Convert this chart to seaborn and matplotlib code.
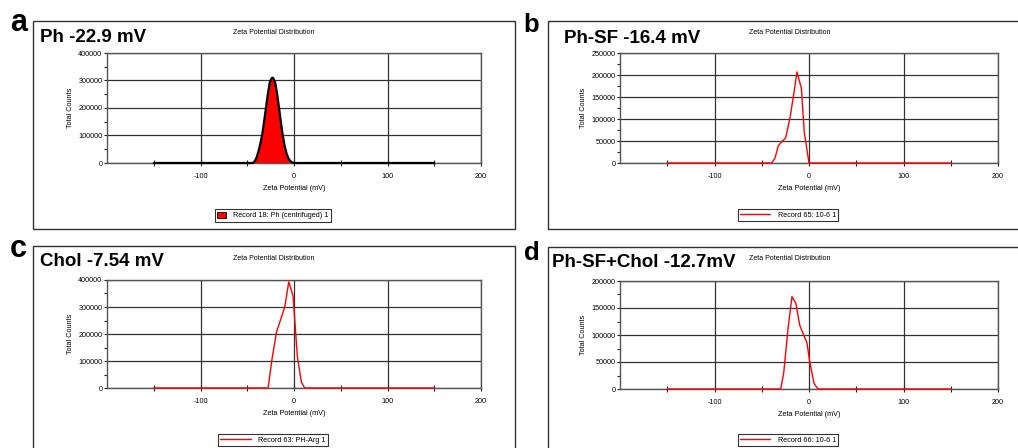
import matplotlib
matplotlib.use("Agg")
import matplotlib.pyplot as plt
from matplotlib.patches import Rectangle
import pandas as pd
import seaborn as sns

# zeta potential distributions
a_mv = [-150, -44, -42, -40, -38, -36, -34, -32, -30, -28, -26, -24, -23, -22,
        -20, -18, -16, -14, -12, -10, -8, -6, -4, -2, 0, 150]
a_counts = [0, 0, 6000, 20000, 42000, 70000, 103000, 150000, 200000, 250000, 292000,
            308000, 310000, 308000, 290000, 250000, 200000, 148000, 100000, 62000,
            35000, 17000, 7000, 2000, 0, 0]

b_mv = [-150, -39.5, -36, -32.5, -29, -24.7, -20, -16.6, -12.7, -8.1, -5, 0, 150]
b_counts = [0, 0, 11000, 39000, 48000, 57000, 104000, 150000, 207000, 170000, 70000, 0, 0]

c_mv = [-150, -27.7, -23.4, -18.7, -9.9, -5.6, -1, 3.6, 7.9, 11.4, 150]
c_counts = [0, 0, 110000, 207000, 300000, 393000, 341000, 116000, 22000, 0, 0]

d_mv = [-150, -30, -26.8, -22.2, -18, -14, -9.8, -2.1, 0.7, 5.3, 9.5, 150]
d_counts = [0, 0, 29000, 112000, 171000, 159000, 118000, 85000, 51000, 10500, 0, 0]

letters = ["a", "b", "c", "d"]
headlines = ["Ph -22.9 mV", "Ph-SF -16.4 mV", "Chol -7.54 mV", "Ph-SF+Chol -12.7mV"]
records = ["Record 18: Ph (centrifuged) 1", "Record 65: 10-6 1",
           "Record 63: PH-Arg 1", "Record 66: 10-6 1"]
y_tops = [400000, 250000, 400000, 200000]
y_steps = [100000, 50000, 100000, 50000]

W, H = 1018, 448

sns.set_style("white")
plt.rcParams["font.family"] = ["Liberation Sans", "DejaVu Sans"]
plt.rcParams["text.color"] = "black"
plt.rcParams["axes.labelcolor"] = "black"
plt.rcParams["xtick.color"] = "black"
plt.rcParams["ytick.color"] = "black"

fig = plt.figure(figsize=(W / 100, H / 100), dpi=100)


def fx(px):
    return px / W


def fy(py):
    return 1 - py / H


def px_box(l, t, r, b):
    return [fx(l), fy(b), (r - l) / W, (b - t) / H]


# layout in pixels: axes box, outer frame, letter, headline, title, legend
panels = [
    dict(ax=(107, 53, 481, 163), frame=(33, 21, 515, 229), letter=(10, 31, 22),
         head=(40, 42), title=(274, 33), legend=(273, 209)),
    dict(ax=(620, 53, 998, 163), frame=(548, 21, 1022, 229), letter=(523, 32, 18.5),
         head=(564, 43), title=(790, 33), legend=(788, 209)),
    dict(ax=(107, 280, 481, 388), frame=(33, 246, 515, 470), letter=(10, 257, 22),
         head=(40, 266), title=(274, 259), legend=(273, 434)),
    dict(ax=(620, 281, 998, 389), frame=(548, 247, 1022, 470), letter=(524, 260, 18.5),
         head=(552, 267), title=(790, 259), legend=(788, 434)),
]

series = [(a_mv, a_counts), (b_mv, b_counts), (c_mv, c_counts), (d_mv, d_counts)]

for i, p in enumerate(panels):
    ax = fig.add_axes(px_box(*p["ax"]))
    mv, counts = series[i]
    df = pd.DataFrame({"mv": mv, "counts": counts})

    if i == 0:
        ax.fill_between(df["mv"], df["counts"], color="#ff0000", edgecolor="none",
                        label=records[i], zorder=3)
        sns.lineplot(data=df, x="mv", y="counts", color="black", lw=1.6, ax=ax,
                     estimator=None, zorder=4, clip_on=False)
        leg_handle = Rectangle((0, 0), 1, 1, facecolor="#ff0000", edgecolor="black", lw=0.6)
        hl, hh = 1.2, 0.9
    else:
        sns.lineplot(data=df, x="mv", y="counts", color="#ff0000", lw=1.0, ax=ax,
                     estimator=None, zorder=4, clip_on=False)
        leg_handle = plt.Line2D([0], [0], color="#ff0000", lw=1.0)
        hl, hh = 4.2, 0.7

    ax.set_xlim(-200, 200)
    ax.set_ylim(0, y_tops[i])

    ax.set_xticks([-100, 0, 100, 200])
    ax.set_xticklabels(["-100", "0", "100", "200"])
    ax.set_xticks([-150, -50, 50, 150], minor=True)
    yt = list(range(0, y_tops[i] + 1, y_steps[i]))
    ax.set_yticks(yt)
    ax.set_yticklabels([str(v) for v in yt])
    ax.set_yticks(list(range(y_steps[i] // 2, y_tops[i], y_steps[i])), minor=True)

    ax.tick_params(axis="x", which="both", direction="inout", length=4, width=0.8,
                   labelsize=5.2, pad=5, color="#222222", bottom=True)
    ax.tick_params(axis="y", which="both", direction="out", length=2.5, width=0.8,
                   labelsize=5.2, pad=0.8, color="#222222", left=True)

    ax.grid(True, which="major", color="#333333", lw=0.9)
    ax.set_axisbelow(True)
    for s in ax.spines.values():
        s.set_color("#555555")
        s.set_linewidth(1.0)

    ax.set_xlabel("Zeta Potential (mV)", fontsize=5.2)
    ax.set_ylabel("Total Counts", fontsize=5.2)
    ax_h = p["ax"][3] - p["ax"][1]
    ax_w = p["ax"][2] - p["ax"][0]
    ax.xaxis.set_label_coords(0.5, -(185 - 163) / ax_h)
    ax.yaxis.set_label_coords(-(107 - 74) / ax_w, 0.5)

    leg = ax.legend(handles=[leg_handle], labels=[records[i]], loc="upper center",
                    bbox_to_anchor=(fx(p["legend"][0]), fy(p["legend"][1])),
                    bbox_transform=fig.transFigure, fontsize=5.2, frameon=True,
                    fancybox=False, edgecolor="black", handlelength=hl, handleheight=hh,
                    borderpad=0.35, handletextpad=1.0, borderaxespad=0)
    leg.get_frame().set_linewidth(0.8)

    # outer frame of each printout
    fl, ft, fr, fb = p["frame"]
    fig.add_artist(Rectangle((fx(fl), fy(fb)), (fr - fl) / W, (fb - ft) / H,
                             transform=fig.transFigure, fill=False,
                             edgecolor="#333333", lw=1.0))

    lx, ly, ls = p["letter"]
    fig.text(fx(lx), fy(ly), letters[i], fontsize=ls, fontweight="bold",
             ha="left", va="baseline")
    fig.text(fx(p["head"][0]), fy(p["head"][1]), headlines[i], fontsize=13.5,
             fontweight="bold", ha="left", va="baseline")
    fig.text(fx(p["title"][0]), fy(p["title"][1]), "Zeta Potential Distribution",
             fontsize=5.0, ha="center", va="center")

fig.savefig("out.png", dpi=100)
